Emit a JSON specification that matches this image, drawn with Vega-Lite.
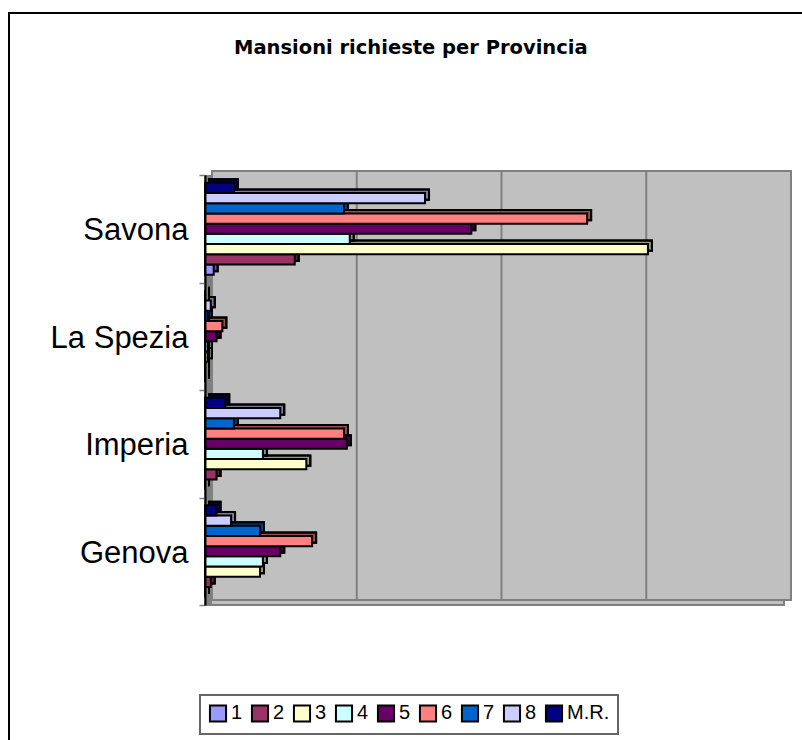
{"$schema":"https://vega.github.io/schema/vega-lite/v6.json","width":579,"height":429,"autosize":{"type":"none"},"padding":{"left":205,"top":176,"right":18,"bottom":135},"background":"#ffffff","config":{"view":{"stroke":null},"font":"Liberation Sans","legend":{"strokeWidth":2}},"title":{"text":"Mansioni richieste per Provincia","font":"DejaVu Sans","fontSize":19.5,"fontWeight":"bold","color":"#000000","anchor":"start","frame":"group","dx":29,"offset":-46},"datasets":{"bars":[{"p":"Savona","s":"1","v":3},{"p":"Savona","s":"2","v":31},{"p":"Savona","s":"3","v":153},{"p":"Savona","s":"4","v":50},{"p":"Savona","s":"5","v":92},{"p":"Savona","s":"6","v":132},{"p":"Savona","s":"7","v":48},{"p":"Savona","s":"8","v":76},{"p":"Savona","s":"M.R.","v":10},{"p":"La Spezia","s":"1","v":0},{"p":"La Spezia","s":"2","v":0},{"p":"La Spezia","s":"3","v":1},{"p":"La Spezia","s":"4","v":1},{"p":"La Spezia","s":"5","v":4},{"p":"La Spezia","s":"6","v":6},{"p":"La Spezia","s":"7","v":1},{"p":"La Spezia","s":"8","v":2},{"p":"La Spezia","s":"M.R.","v":0},{"p":"Imperia","s":"1","v":0},{"p":"Imperia","s":"2","v":4},{"p":"Imperia","s":"3","v":35},{"p":"Imperia","s":"4","v":20},{"p":"Imperia","s":"5","v":49},{"p":"Imperia","s":"6","v":48},{"p":"Imperia","s":"7","v":10},{"p":"Imperia","s":"8","v":26},{"p":"Imperia","s":"M.R.","v":7},{"p":"Genova","s":"1","v":0},{"p":"Genova","s":"2","v":2},{"p":"Genova","s":"3","v":19},{"p":"Genova","s":"4","v":20},{"p":"Genova","s":"5","v":26},{"p":"Genova","s":"6","v":37},{"p":"Genova","s":"7","v":19},{"p":"Genova","s":"8","v":9},{"p":"Genova","s":"M.R.","v":4}],"grid":[{"g":50,"t":0,"u":1},{"g":100,"t":0,"u":1},{"g":150,"t":0,"u":1}],"frame":[{"x0":-67.7,"x1":240,"y0":-163,"y1":600}]},"data":{"name":"bars"},"layer":[{"data":{"name":"frame"},"mark":{"type":"rect","fill":"#ffffff","fillOpacity":0,"stroke":"#000000","strokeWidth":2,"clip":false},"encoding":{"x":{"field":"x0","type":"quantitative","scale":{"domain":[0,200],"nice":false,"clamp":false},"axis":null},"x2":{"field":"x1"},"y":{"field":"y0","type":"quantitative","scale":{"domain":[0,429],"range":[0,429],"nice":false,"zero":false},"axis":null},"y2":{"field":"y1"}}},{"data":{"values":[{"a":0,"b":200}]},"mark":{"type":"rect","fill":"#c0c0c0","stroke":"#808080","strokeWidth":2},"encoding":{"x":{"field":"a","type":"quantitative"},"x2":{"field":"b"}}},{"data":{"values":[{"a":0,"b":2.4}]},"mark":{"type":"rect","fill":"#808080"},"encoding":{"x":{"field":"a","type":"quantitative"},"x2":{"field":"b"}}},{"layer":[{"data":{"values":[{"a":0,"b":200,"t":0,"u":1}]},"mark":{"type":"rect","fill":"#c0c0c0","stroke":"#808080","strokeWidth":2,"xOffset":7,"x2Offset":7},"encoding":{"x":{"field":"a","type":"quantitative"},"x2":{"field":"b"},"y":{"field":"t","type":"quantitative","scale":{"domain":[0,1],"range":[-5,424],"nice":false,"zero":false},"axis":null},"y2":{"field":"u"}}},{"data":{"name":"grid"},"mark":{"type":"rule","color":"#808080","strokeWidth":2,"xOffset":7},"encoding":{"x":{"field":"g","type":"quantitative"},"y":{"field":"t","type":"quantitative"},"y2":{"field":"u"}}}]},{"layer":[{"mark":{"type":"bar","stroke":"#000000","strokeWidth":2,"xOffset":4},"encoding":{"x":{"field":"v","type":"quantitative"},"y":{"field":"p","type":"nominal","sort":["Savona","La Spezia","Imperia","Genova"],"scale":{"padding":0,"range":[-4.5,425.5]},"axis":null},"yOffset":{"field":"s","type":"nominal","sort":["M.R.","8","7","6","5","4","3","2","1"],"scale":{"paddingInner":0,"paddingOuter":0.76}},"fill":{"field":"s","type":"nominal","sort":["1","2","3","4","5","6","7","8","M.R."],"scale":{"domain":["1","2","3","4","5","6","7","8","M.R."],"range":["#9999ff","#993366","#ffffcc","#ccffff","#660066","#ff8080","#0066cc","#ccccff","#000080"]},"legend":{"orient":"none","legendX":-5,"legendY":519,"direction":"horizontal","columns":9,"title":null,"symbolType":"square","symbolSize":260,"symbolStrokeColor":"#000000","symbolStrokeWidth":2,"symbolOpacity":1,"labelFont":"Liberation Sans","labelFontSize":20,"labelColor":"#000000","labelOffset":3,"columnPadding":4,"gridAlign":"each","padding":8,"strokeColor":"#666666","fillColor":"#ffffff"}}}},{"mark":{"type":"bar","fill":"#000000","fillOpacity":0.4,"stroke":"#000000","strokeWidth":2,"xOffset":4},"encoding":{"x":{"field":"v","type":"quantitative"},"y":{"field":"p","type":"nominal","sort":["Savona","La Spezia","Imperia","Genova"]},"yOffset":{"field":"s","type":"nominal","sort":["M.R.","8","7","6","5","4","3","2","1"]}}}]},{"mark":{"type":"bar","stroke":"#000000","strokeWidth":2},"encoding":{"x":{"field":"v","type":"quantitative"},"y":{"field":"p","type":"nominal","sort":["Savona","La Spezia","Imperia","Genova"],"scale":{"padding":0,"range":[-1,429]},"axis":{"orient":"left","zindex":1,"title":null,"domain":true,"domainColor":"#000000","domainWidth":2,"ticks":true,"tickColor":"#808080","tickWidth":1.5,"tickSize":6,"tickBand":"extent","labelFont":"Liberation Sans","labelFontSize":31,"labelColor":"#000000","labelPadding":11,"labelLimit":200,"labelOffset":2}},"yOffset":{"field":"s","type":"nominal","sort":["M.R.","8","7","6","5","4","3","2","1"],"scale":{"paddingInner":0,"paddingOuter":0.76}},"fill":{"field":"s","type":"nominal"}}}],"resolve":{"scale":{"y":"independent"}}}
